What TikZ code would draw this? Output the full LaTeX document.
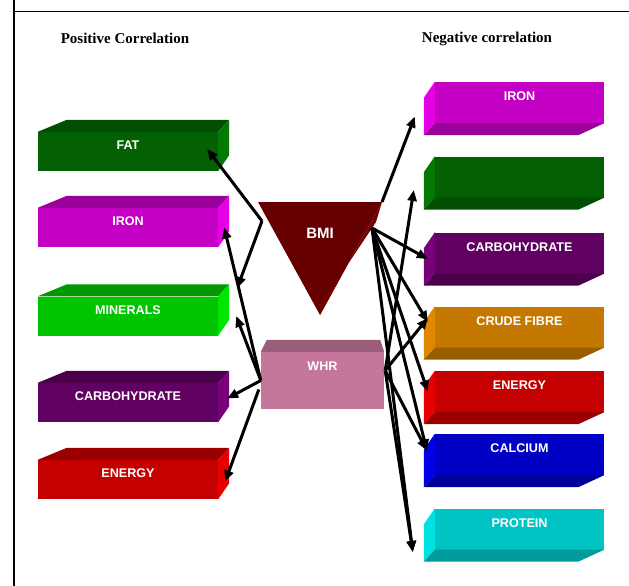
\documentclass[tikz,border=0pt]{standalone}
\usepackage{fontspec}
\setmainfont{Liberation Serif}
\newfontfamily\arialfont{Liberation Sans}
\usetikzlibrary{calc,arrows.meta}

\definecolor{grnF}{HTML}{036003}\definecolor{grnT}{HTML}{024E02}\definecolor{grnS}{HTML}{037803}
\definecolor{magF}{HTML}{C400C4}\definecolor{magT}{HTML}{9A009A}\definecolor{magS}{HTML}{E600E6}
\definecolor{limF}{HTML}{00C400}\definecolor{limT}{HTML}{009A00}\definecolor{limS}{HTML}{00E600}
\definecolor{purF}{HTML}{600060}\definecolor{purT}{HTML}{4C004C}\definecolor{purS}{HTML}{780078}
\definecolor{redF}{HTML}{C40000}\definecolor{redT}{HTML}{9A0000}\definecolor{redS}{HTML}{E60000}
\definecolor{ornF}{HTML}{C47800}\definecolor{ornT}{HTML}{9A5E00}\definecolor{ornS}{HTML}{E08800}
\definecolor{bluF}{HTML}{0000C4}\definecolor{bluT}{HTML}{00009A}\definecolor{bluS}{HTML}{0000E6}
\definecolor{cyaF}{HTML}{00C4C4}\definecolor{cyaT}{HTML}{009A9A}\definecolor{cyaS}{HTML}{00E2E2}
\definecolor{bmiF}{HTML}{660000}\definecolor{bmiS}{HTML}{740000}
\definecolor{whrF}{HTML}{C4779A}\definecolor{whrT}{HTML}{9A5E7A}

\begin{document}
\begin{tikzpicture}[x=1pt,y=-1pt,
	heading/.style={font=\bfseries\fontsize{15}{18}\selectfont},
	boxtext/.style={text=white,font=\arialfont\bfseries\fontsize{12.6}{14}\selectfont},
	lbox/.style={boxtext,minimum width=180pt,minimum height=39pt,inner sep=0pt,text height=9pt,text depth=13pt},
	rbox/.style={boxtext,minimum width=169pt,minimum height=41pt,inner sep=0pt,text height=9pt,text depth=13pt},
	whrbox/.style={boxtext,fill=whrF,minimum width=123pt,minimum height=57pt,inner sep=0pt,text height=9pt,text depth=29pt},
	arr/.style={-{Triangle[length=11pt,width=9pt]},line width=3pt,black}]
	
	\useasboundingbox (0,0) rectangle (629,586);
	\draw[line width=1.6pt] (14,0) -- (14,586);
	\draw[line width=1.6pt] (14,11.5) -- (629,11.5);
	
	\node[heading] (pos) at (125,38.5) {Positive Correlation};
	\node[heading] (neg) at (487,38.5) {Negative correlation};
	
	% left column
	\foreach \nm/\y/\c/\txt in {lfat/151.5/grn/FAT, liron/227.5/mag/IRON, lmin/316/lim/MINERALS, lcarb/402.5/pur/CARBOHYDRATE, lener/479.5/red/ENERGY}{
		\node[lbox,fill=\c F] (\nm) at (128,\y) {\txt};
		\fill[\c T] (\nm.north west) -- ++(29,-12) -- ($(\nm.north east)+(11,-12)$) -- (\nm.north east) -- cycle;
		\fill[\c S] (\nm.north east) -- ++(11,-12) -- ($(\nm.south east)+(11,-16)$) -- (\nm.south east) -- cycle;
	}
	
	% right column
	\foreach \nm/\y/\c/\txt in {riron/102.5/mag/IRON, rgreen/177/grn/{}, rcarb/253/pur/CARBOHYDRATE, rfibre/327/orn/CRUDE FIBRE, rener/391.5/red/ENERGY, rcalc/454.5/blu/CALCIUM, rprot/529/cya/PROTEIN}{
		\node[rbox,fill=\c F] (\nm) at (519.5,\y) {\txt};
		\fill[\c S] (\nm.north west) -- ++(-11,16) -- ($(\nm.south west)+(-11,12)$) -- (\nm.south west) -- cycle;
		\fill[\c T] (\nm.south west) -- ++(-11,12) -- ($(\nm.south east)+(-26,12)$) -- (\nm.south east) -- cycle;
	}
	
	% BMI
	\coordinate (bmiTL) at (258,202);
	\coordinate (bmiTR) at (382,202);
	\coordinate (bmiB) at (320,315);
	\fill[bmiF] (bmiTL) -- (bmiTR) -- (bmiB) -- cycle;
	\fill[bmiS] (bmiTR) -- (bmiB) -- ($(bmiB)+(0,-9)$) -- ($(bmiTR)+(-6,20)$) -- cycle;
	\node[text=white,font=\arialfont\bfseries\fontsize{15}{18}\selectfont] (bmi) at (320,233) {BMI};
	\coordinate (bmiL) at (262,221);
	\coordinate (bmiR) at (372,228);
	
	% WHR
	\node[whrbox] (whr) at (322.5,380.5) {WHR};
	\fill[whrT] (whr.north west) -- ++(6,-12) -- ($(whr.north east)+(-4,-12)$) -- (whr.north east) -- cycle;
	\coordinate (whrR) at ($(whr.east)+(1,-10)$);
	
	% positive
	\draw[arr] (bmiL) -- ($(lfat.east)+(-11,-2.5)$);
	\draw[arr] (bmiL) -- ($(lmin.east)+(19,-28)$);
	\draw[arr] (whr.west) -- ($(liron.east)+(6,0)$);
	\draw[arr] (whr.west) -- ($(lmin.east)+(18,0)$);
	\draw[arr] (whr.west) -- ($(lcarb.east)+(9,-4)$);
	\draw[arr] ($(whr.west)+(-2,9)$) -- ($(lener.east)+(7,2)$);
	
	% negative
	\draw[arr] (bmiTR) -- ($(riron.west)+(-20,14)$);
	\draw[arr] (bmiR) -- ($(rcarb.west)+(-7,6)$);
	\draw[arr] (bmiR) -- ($(rfibre.west)+(-7,-5)$);
	\draw[arr] (bmiR) -- ($(rener.west)+(-7,0)$);
	\draw[arr] (bmiR) -- ($(rcalc.west)+(-8,-4)$);
	\draw[arr] (bmiR) -- ($(rprot.west)+(-22,23)$);
	\draw[arr] (whrR) -- ($(rgreen.west)+(-21,13)$);
	\draw[arr] (whrR) -- ($(rfibre.west)+(-7,-9)$);
	\draw[arr] (whrR) -- ($(rcalc.west)+(-8,-4)$);
	\draw[arr] (whrR) -- ($(rprot.west)+(-22,23)$);
\end{tikzpicture}
\end{document}
